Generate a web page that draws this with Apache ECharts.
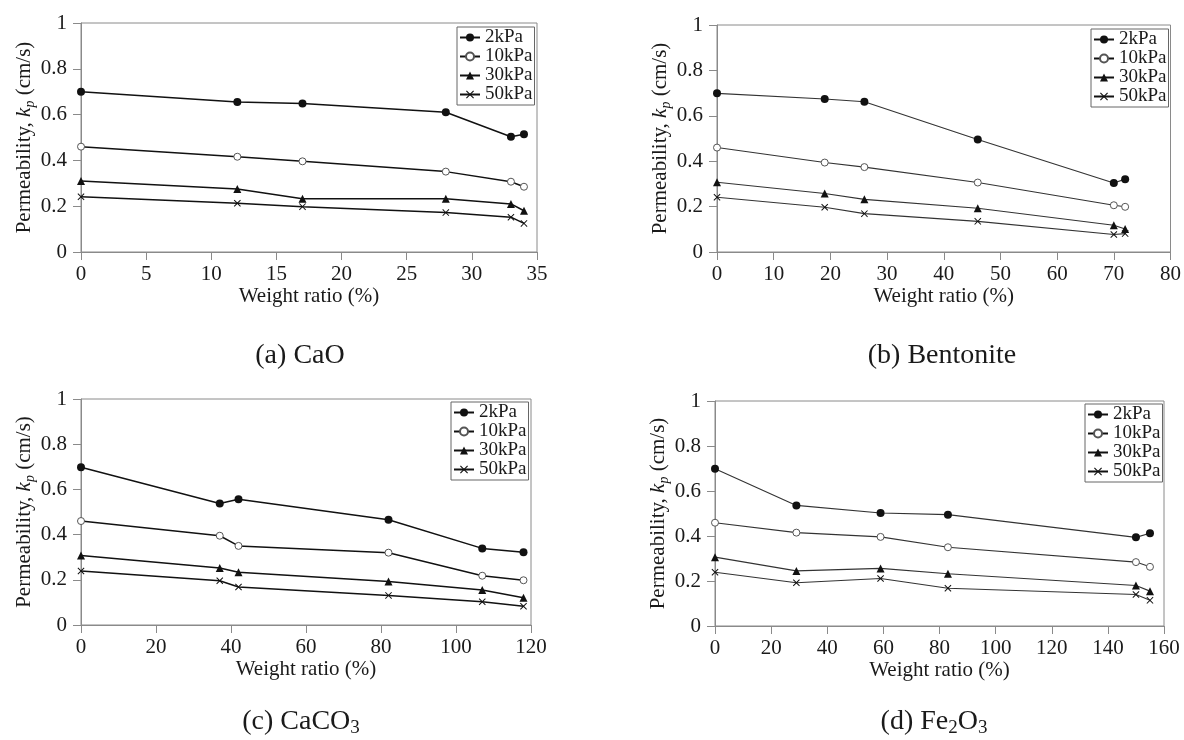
<!DOCTYPE html>
<html>
<head>
<meta charset="utf-8">
<script src="https://cdn.jsdelivr.net/npm/echarts@6/dist/echarts.min.js"></script>
<style>
  html, body { margin: 0; padding: 0; background: #fff; }
  #main { width: 1184px; height: 740px; }
</style>
</head>
<body>
<div id="main"></div>
<script>
var myChart = echarts.init(document.getElementById('main'));

var pressures = ['2kPa', '10kPa', '30kPa', '50kPa'];

// (a) CaO
var ratioCaO = [0, 12, 17, 28, 33, 34];
var cao2kPa  = [0.700, 0.655, 0.648, 0.610, 0.503, 0.514];
var cao10kPa = [0.460, 0.416, 0.396, 0.351, 0.307, 0.285];
var cao30kPa = [0.310, 0.275, 0.233, 0.233, 0.210, 0.180];
var cao50kPa = [0.241, 0.213, 0.198, 0.172, 0.152, 0.125];

// (b) Bentonite
var ratioBen = [0, 19, 26, 46, 70, 72];
var ben2kPa  = [0.699, 0.674, 0.662, 0.496, 0.304, 0.321];
var ben10kPa = [0.460, 0.394, 0.374, 0.306, 0.206, 0.199];
var ben30kPa = [0.307, 0.258, 0.232, 0.193, 0.118, 0.101];
var ben50kPa = [0.241, 0.197, 0.169, 0.135, 0.077, 0.081];

// (c) CaCO3
var ratioCaCO3 = [0, 37, 42, 82, 107, 118];
var caco2kPa  = [0.698, 0.538, 0.556, 0.466, 0.339, 0.322];
var caco10kPa = [0.460, 0.395, 0.350, 0.320, 0.218, 0.198];
var caco30kPa = [0.308, 0.252, 0.233, 0.193, 0.155, 0.121];
var caco50kPa = [0.239, 0.196, 0.168, 0.131, 0.103, 0.083];

// (d) Fe2O3
var ratioFe = [0, 29, 59, 83, 150, 155];
var fe2kPa  = [0.699, 0.536, 0.502, 0.495, 0.394, 0.412];
var fe10kPa = [0.459, 0.415, 0.396, 0.350, 0.284, 0.263];
var fe30kPa = [0.306, 0.245, 0.256, 0.232, 0.180, 0.155];
var fe50kPa = [0.239, 0.192, 0.211, 0.168, 0.140, 0.114];

var xMax = [35, 80, 120, 160];
var xStep = [5, 10, 20, 20];
var captions = ['(a) CaO', '(b) Bentonite', '(c) CaCO{s|3}', '(d) Fe{s|2}O{s|3}'];

var FONT = "'Liberation Serif', 'Times New Roman', serif";
var INK = '#1a1a1a';
var AXIS = '#8a8a8a';
var XMARK = 'path://M1,0L5,4L9,0L10,1L6,5L10,9L9,10L5,6L1,10L0,9L4,5L0,1Z';

var panels = [
  { ratio: ratioCaO,   vals: [cao2kPa, cao10kPa, cao30kPa, cao50kPa],
    grid: { left: 81, top: 23, width: 456, height: 229 }, leg: [457, 27], cap: [300, 340], lw: 1.5, lc: '#111' },
  { ratio: ratioBen,   vals: [ben2kPa, ben10kPa, ben30kPa, ben50kPa],
    grid: { left: 717, top: 25, width: 455, height: 227 }, leg: [1091, 29], cap: [942, 340], lw: 1.1, lc: '#333' },
  { ratio: ratioCaCO3, vals: [caco2kPa, caco10kPa, caco30kPa, caco50kPa],
    grid: { left: 81, top: 399, width: 450, height: 226 }, leg: [451, 402], cap: [301, 706], lw: 1.5, lc: '#111' },
  { ratio: ratioFe,    vals: [fe2kPa, fe10kPa, fe30kPa, fe50kPa],
    grid: { left: 715, top: 401, width: 449, height: 225 }, leg: [1085, 404], cap: [934, 706], lw: 1.1, lc: '#333' }
];

function markStyle(k) {
  if (k === 0) return { symbol: 'circle', symbolSize: 8, itemStyle: { color: '#111' } };
  if (k === 1) return { symbol: 'circle', symbolSize: 7, itemStyle: { color: '#fff', borderColor: '#555', borderWidth: 1 } };
  if (k === 2) return { symbol: 'triangle', symbolSize: 8, itemStyle: { color: '#111' } };
  return { symbol: XMARK, symbolSize: 7, itemStyle: { color: '#111' } };
}

var grids = [], xAxes = [], yAxes = [], legends = [], titles = [], series = [];

panels.forEach(function (p, i) {
  grids.push(Object.assign({ show: true, borderColor: AXIS, borderWidth: 1, backgroundColor: '#fff' }, p.grid));

  xAxes.push({
    type: 'value', gridIndex: i, min: 0, max: xMax[i], interval: xStep[i],
    name: 'Weight ratio (%)', nameLocation: 'middle', nameGap: 34,
    nameTextStyle: { fontFamily: FONT, fontSize: 21, color: INK },
    axisLine: { show: true, lineStyle: { color: AXIS, width: 1 } },
    axisTick: { show: true, inside: false, length: 8, lineStyle: { color: AXIS } },
    axisLabel: { fontFamily: FONT, fontSize: 21, color: INK, margin: 12 },
    splitLine: { show: false }
  });

  yAxes.push({
    type: 'value', gridIndex: i, min: 0, max: 1, interval: 0.2,
    name: 'Permeability, {i|k}{s|p} (cm/s)', nameLocation: 'middle', nameGap: 44,
    nameTextStyle: {
      fontFamily: FONT, fontSize: 21, color: INK,
      rich: {
        i: { fontFamily: FONT, fontSize: 21, fontStyle: 'italic', color: INK },
        s: { fontFamily: FONT, fontSize: 14, fontStyle: 'italic', color: INK, verticalAlign: 'bottom', lineHeight: 24 }
      }
    },
    axisLine: { show: true, lineStyle: { color: AXIS, width: 1 } },
    axisTick: { show: true, inside: false, length: 8, lineStyle: { color: AXIS } },
    axisLabel: { fontFamily: FONT, fontSize: 21, color: INK, margin: 14 },
    splitLine: { show: false }
  });

  legends.push({
    data: pressures, left: p.leg[0], top: p.leg[1], orient: 'vertical',
    itemWidth: 20, itemHeight: 10, itemGap: 0, padding: [1, 2, 1, 2],
    borderColor: '#666', borderWidth: 1, borderRadius: 0, backgroundColor: '#fff',
    textStyle: { fontFamily: FONT, fontSize: 19, lineHeight: 18, color: INK }
  });

  titles.push({
    text: captions[i], left: p.cap[0], top: p.cap[1], textAlign: 'center', padding: 0,
    textStyle: {
      fontFamily: FONT, fontSize: 28, fontWeight: 'normal', color: INK, lineHeight: 32,
      rich: { s: { fontFamily: FONT, fontSize: 19, color: INK, verticalAlign: 'bottom', lineHeight: 28 } }
    }
  });

  p.vals.forEach(function (vals, k) {
    var m = markStyle(k);
    series.push({
      name: pressures[k],
      type: 'line',
      xAxisIndex: i, yAxisIndex: i,
      symbol: m.symbol, symbolSize: m.symbolSize,
      showAllSymbol: true,
      itemStyle: m.itemStyle,
      lineStyle: { color: p.lc, width: p.lw },
      emphasis: { disabled: true },
      z: 3,
      data: p.ratio.map(function (x, j) { return [x, vals[j]]; })
    });
  });
});

var option = {
  backgroundColor: '#fff',
  animation: false,
  title: titles,
  legend: legends,
  grid: grids,
  xAxis: xAxes,
  yAxis: yAxes,
  series: series
};

myChart.setOption(option);
window.onresize = myChart.resize;
</script>
</body>
</html>
